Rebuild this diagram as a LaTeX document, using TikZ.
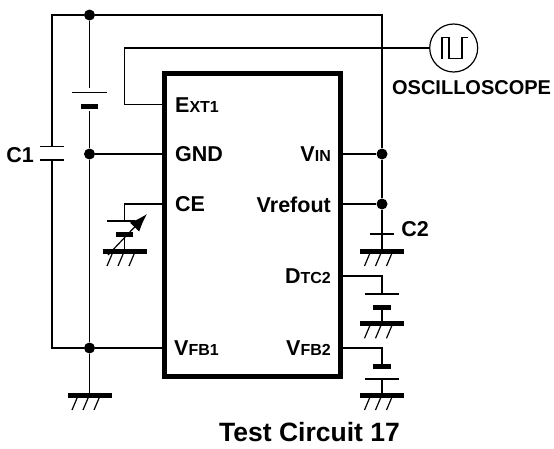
\documentclass[tikz,border=0pt]{standalone}
\usepackage{fontspec}
\setmainfont{Liberation Sans}
\usetikzlibrary{arrows.meta}
\tikzset{
    wire/.style={line width=1.2pt,black},
    thinplate/.style={line width=1.2pt,black},
    thickplate/.style={line width=5pt,black},
    chip/.style={draw=black,line width=5pt,fill=white},
    dot/.style={circle,fill=black,inner sep=0pt,minimum size=11pt},
    pin/.style={font=\bfseries\fontsize{21.5}{22}\selectfont,inner sep=0pt}
}
\newcommand{\gnd}[2]{% x, y of the ground bar
    \draw[thickplate] (#1-22,#2) -- (#1+22,#2);
    \foreach \d in {-11,0,11}
        \draw[wire] (#1+\d-1,#2+2) -- (#1+\d-6.5,#2+15);
}
\newcommand{\sbs}{\fontsize{16}{16}\selectfont}
\begin{document}
\begin{tikzpicture}[x=1pt,y=-1pt]
    \useasboundingbox (0,0) rectangle (554,448);

    \node[chip,minimum width=176pt,minimum height=303pt,inner sep=0pt] (IC) at (252.5,224.5) {};

    % junctions and free corners
    \node[dot] (J-top) at (89.5,15) {};
    \node[dot] (J-gnd) at (89.5,154) {};
    \node[dot] (J-fb) at (89.5,348) {};
    \node[dot] (J-vin) at (382,154) {};
    \node[dot] (J-ref) at (382,204) {};
    \foreach \name/\x/\y in {ext/164/104.5, gnd/164/154, ce/164/204, fb/164/348,
                             vin/341/154, ref/341/204, dtc/341/276, fbb/341/348}
        \coordinate (P-\name) at (\x,\y);
    \node[circle,draw=black,line width=1.2pt,minimum size=48pt,inner sep=0pt] (scope) at (453.7,48) {};

    \foreach \from/\to in {J-top/J-gnd, J-gnd/J-fb}
        \draw[wire] (\from) -- (\to);
    \foreach \from/\to in {P-gnd/J-gnd, P-fb/J-fb, P-vin/J-vin, P-ref/J-ref}
        \draw[wire] (\from) -- (\to);

    % supply wires
    \draw[wire] (J-top) -- (52,15) -- (52,146.5);
    \draw[wire] (52,160) -- (52,348) -- (J-fb);
    \draw[wire] (J-top) -- (382,15) -- (J-vin);
    \draw[wire] (J-vin) -- (J-ref) -- (382,234);
    \draw[wire] (P-ext) -- (124.5,104.5) -- (124.5,48) -- (scope);

    % C1
    \draw[thinplate] (40,146.5) -- (64,146.5);
    \draw[thinplate] (40,160) -- (64,160);

    % battery on the left
    \fill[white] (80,88) rectangle (99,111);
    \draw[thinplate] (72,92.5) -- (107,92.5);
    \draw[thickplate] (81,106) -- (98,106);

    % CE source
    \draw[wire] (P-ce) -- (124.5,204) -- (124.5,221);
    \draw[thinplate] (107,221) -- (135,221);
    \draw[thickplate] (116,234.5) -- (133,234.5);
    \draw[wire] (124.5,234.5) -- (124.5,251);
    \draw[wire,-{Latex[length=18pt,width=13pt]}] (108,255) -- (147,214);
    \gnd{124.5}{251}

    % C2
    \draw[thinplate] (370,234) -- (394,234);
    \draw[wire] (382,234) -- (382,251);
    \gnd{382}{251}

    % DTC2 side
    \draw[wire] (P-dtc) -- (382,276) -- (382,294);
    \draw[thinplate] (365,294) -- (399,294);
    \draw[thickplate] (373,307) -- (391,307);
    \draw[wire] (382,307) -- (382,323);
    \gnd{382}{323.3}

    % VFB2 side
    \draw[wire] (P-fbb) -- (382,348) -- (382,366);
    \draw[thickplate] (373,366.3) -- (391,366.3);
    \draw[thinplate] (365,379) -- (399,379);
    \draw[wire] (382,379) -- (382,395);
    \gnd{382}{395}

    % ground under VFB1
    \draw[wire] (J-fb) -- (89.5,395);
    \gnd{89.5}{395}

    % trace in the scope
    \draw[wire] (442,59) -- (442,37.7) -- (449,37.7) -- (449,58.7) -- (462,58.7) -- (462,37.7) -- (468,37.7);

    % labels
    \node[pin,anchor=west] (L-ext) at (175,105) {E{\sbs XT1}};
    \node[pin,anchor=west] (L-gnd) at (175,154.5) {GND};
    \node[pin,anchor=west] (L-ce) at (175,204.5) {CE};
    \node[pin,anchor=west] (L-fb) at (174,348.5) {V{\sbs FB1}};
    \node[pin,anchor=east] (L-vin) at (331,154.5) {V{\sbs IN}};
    \node[pin,anchor=east] (L-ref) at (331,204.5) {Vrefout};
    \node[pin,anchor=east] (L-dtc) at (331,276.5) {D{\sbs TC2}};
    \node[pin,anchor=east] (L-fbb) at (331,348.5) {V{\sbs FB2}};
    \node[pin] (L-c1) at (20,155) {C1};
    \node[pin] (L-c2) at (415,229) {C2};
    \node[pin,font=\bfseries\fontsize{20}{20}\selectfont] (L-scope) at (471.6,88) {OSCILLOSCOPE};
    \node[pin,font=\bfseries\fontsize{26.5}{27}\selectfont] (L-title) at (309.5,432) {Test Circuit 17};
\end{tikzpicture}
\end{document}
